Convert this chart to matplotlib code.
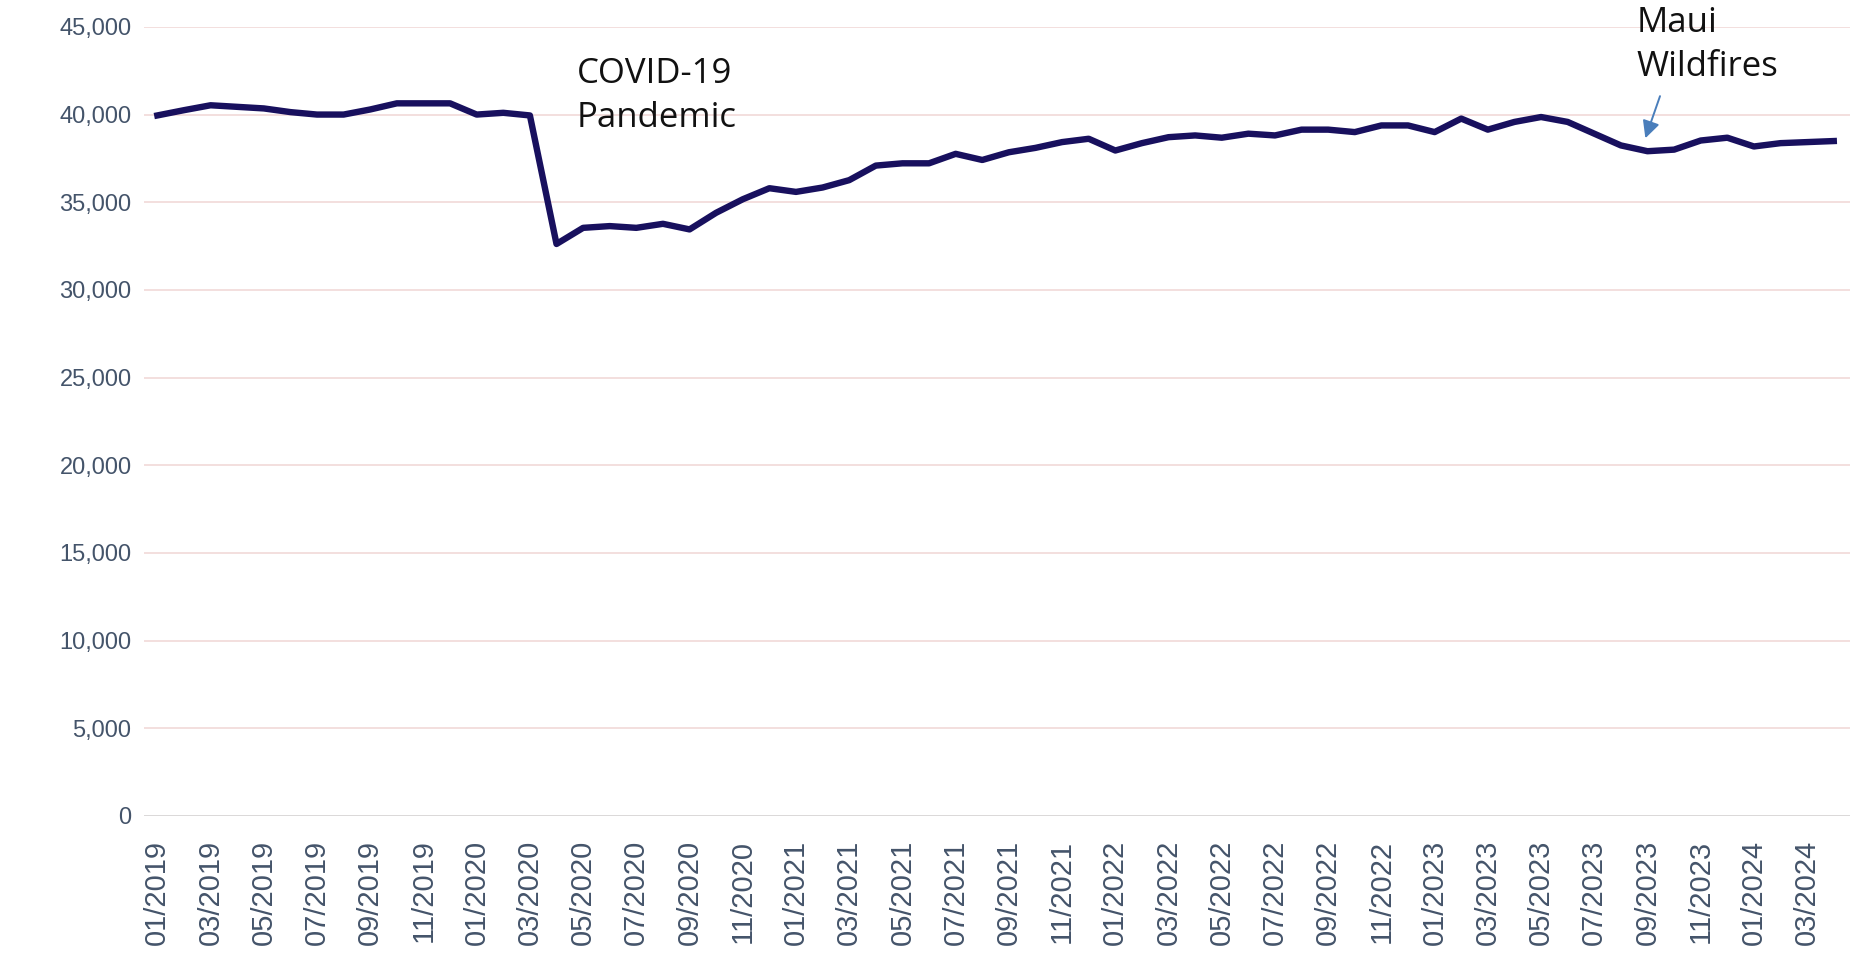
# coding:UTF-8
import matplotlib
matplotlib.use("Agg")
from matplotlib import pyplot as plt
from matplotlib.ticker import FuncFormatter

# monthly values, 01/2019 - 04/2024
years = [2019, 2020, 2021, 2022, 2023, 2024]
months = ["%02d/%d" % (m, y) for y in years for m in range(1, 13)][:64]

values = [39950, 40250, 40530, 40440, 40350, 40140, 40000, 40000, 40290, 40640,
          40640, 40640, 40000, 40100, 39950, 32620, 33540, 33640, 33540, 33770,
          33450, 34400, 35170, 35800, 35590, 35840, 36260, 37090, 37220, 37220,
          37760, 37410, 37850, 38100, 38430, 38620, 37950, 38370, 38710, 38810,
          38680, 38910, 38810, 39140, 39140, 39000, 39380, 39380, 39000, 39770,
          39140, 39580, 39860, 39580, 38910, 38240, 37910, 38000, 38520, 38680,
          38180, 38370, 38430, 38490]

yticks = [0, 5000, 10000, 15000, 20000, 25000, 30000, 35000, 40000, 45000]

# annotations (text, month index of text, y of text, arrow target)
covid_label = "COVID-19\nPandemic"
covid_pos = (15.75, 43300)
maui_label = "Maui\nWildfires"
maui_pos = (55.6, 46200)
maui_arrow_from = (56.47, 41050)
maui_arrow_to = (55.92, 38650)

labelcolor = "#44546a"

fig = plt.figure(figsize=(18.54, 9.6), dpi=100)
ax = fig.add_axes([0.0777, 0.15, 0.920, 0.822])

x = list(range(len(values)))
ax.plot(x, values, color="#18105e", lw=4.6, solid_joinstyle="round", zorder=3)

ax.set_xlim(-0.5, 63.6)
ax.set_ylim(0, 45000)
ax.set_yticks(yticks)
ax.yaxis.set_major_formatter(FuncFormatter(lambda v, p: "{:,.0f}".format(v)))
ax.set_xticks(x[::2])
ax.set_xticklabels(months[::2], rotation=90)

for s in ax.spines.values():
	s.set_visible(False)
ax.yaxis.grid(True, color="#f2dcdb", lw=1.3)
ax.set_axisbelow(True)
ax.axhline(0, color="#d9d9d9", lw=2, zorder=2)

ax.tick_params(axis="y", length=0, pad=9, labelsize=17, labelcolor=labelcolor)
ax.tick_params(axis="x", length=0, pad=17, labelsize=21, labelcolor=labelcolor)
for t in ax.get_xticklabels() + ax.get_yticklabels():
	t.set_fontfamily("Liberation Sans")

ax.text(covid_pos[0], covid_pos[1], covid_label, fontsize=25, family="Open Sans",
        color="#111111", ha="left", va="top", linespacing=1.4)
ax.text(maui_pos[0], maui_pos[1], maui_label, fontsize=25, family="Open Sans",
        color="#111111", ha="left", va="top", linespacing=1.4, clip_on=False)
ax.annotate("", xy=maui_arrow_to, xytext=maui_arrow_from,
            arrowprops=dict(arrowstyle="-|>", color="#4a7ebb", lw=1.4,
                            mutation_scale=26, shrinkA=0, shrinkB=0))

plt.savefig("out.png", dpi=100)
